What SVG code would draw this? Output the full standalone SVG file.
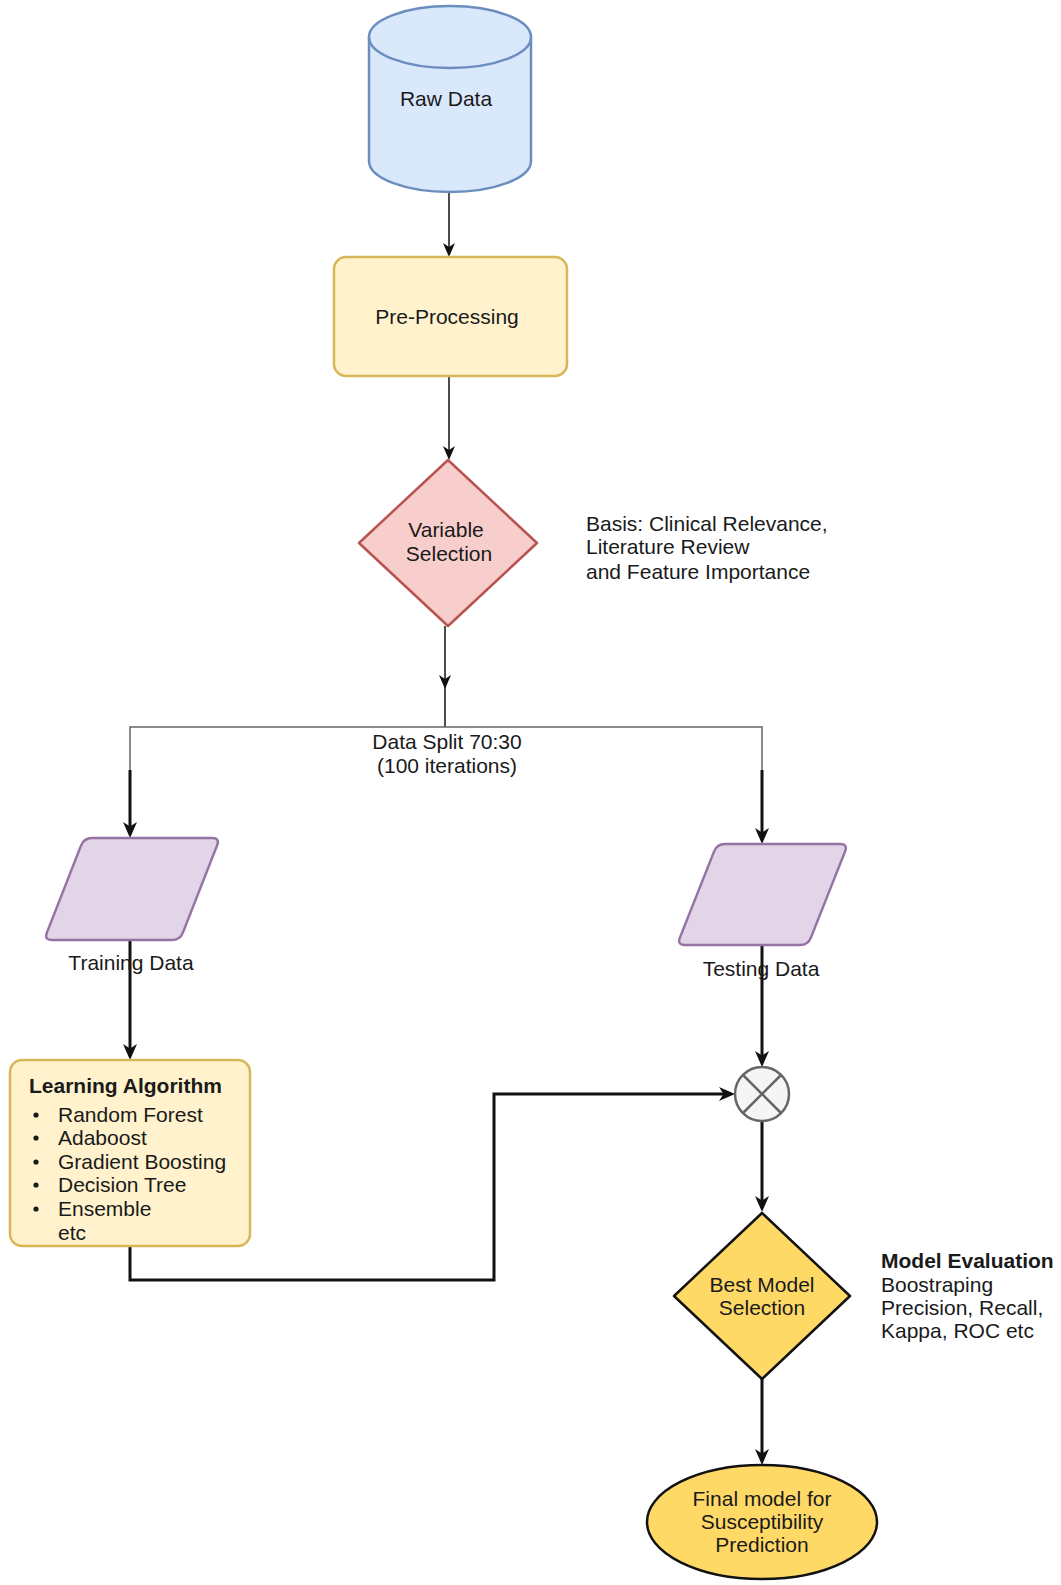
<svg xmlns="http://www.w3.org/2000/svg" width="1061" height="1585" viewBox="0 0 1061 1585">
<style>
text{font-family:"Liberation Sans",Arial,sans-serif;font-size:21px;fill:#1a1a1a}
.c{text-anchor:middle}
.b{font-weight:bold}
.thin{fill:none;stroke:#111;stroke-width:1.5}
.gray{fill:none;stroke:#666;stroke-width:1.5}
.thick{fill:none;stroke:#111;stroke-width:3}
.yel{fill:#fff2cc;stroke:#d6b656;stroke-width:2.5}
.pur{fill:#e1d5e7;stroke:#9673a6;stroke-width:2.5}
.gold{fill:#ffd966;stroke:#111;stroke-width:2.5}
</style>
<defs>
<marker id="a1" viewBox="0 0 14 12" refX="10" refY="6" markerWidth="14" markerHeight="12" markerUnits="userSpaceOnUse" orient="auto">
<path d="M0,0 L14,6 L0,12 L4,6 Z" fill="#111"/>
</marker>
<marker id="a2" viewBox="0 0 16 14" refX="12" refY="7" markerWidth="16" markerHeight="14" markerUnits="userSpaceOnUse" orient="auto">
<path d="M0,0 L16,7 L0,14 L4.5,7 Z" fill="#111"/>
</marker>
</defs>
<g id="connectors">
<line class="thin" x1="449" y1="192" x2="449" y2="253" marker-end="url(#a1)"/>
<line class="thin" x1="449" y1="376" x2="449" y2="456" marker-end="url(#a1)"/>
<line class="thin" x1="445" y1="626" x2="445" y2="685" marker-end="url(#a1)"/>
<line class="thin" x1="445" y1="685" x2="445" y2="727"/>
<path class="gray" d="M130,770 V727 H762 V770"/>
<line class="thick" x1="130" y1="770" x2="130" y2="834" marker-end="url(#a2)"/>
<line class="thick" x1="762" y1="770" x2="762" y2="840" marker-end="url(#a2)"/>
<line class="thick" x1="130" y1="940" x2="130" y2="1056" marker-end="url(#a2)"/>
<line class="thick" x1="762" y1="945" x2="762" y2="1063" marker-end="url(#a2)"/>
<path class="thick" d="M130,1246 V1280 H494 V1094 H731" marker-end="url(#a2)"/>
<line class="thick" x1="762" y1="1121" x2="762" y2="1208" marker-end="url(#a2)"/>
<line class="thick" x1="762" y1="1379" x2="762" y2="1461" marker-end="url(#a2)"/>
</g>
<g id="raw-data">
<path d="M369,37 A81,31 0 0 1 531,37 V161 A81,31 0 0 1 369,161 Z" fill="#dae8fc" stroke="#6c8ebf" stroke-width="2.5"/>
<path d="M369,37 A81,31 0 0 0 531,37" fill="none" stroke="#6c8ebf" stroke-width="2.5"/>
<text class="c" x="446" y="106">Raw Data</text>
</g>
<g id="pre-processing">
<rect class="yel" x="334" y="257" width="233" height="119" rx="12"/>
<text class="c" x="447" y="324">Pre-Processing</text>
</g>
<g id="variable-selection">
<polygon points="448,460 537,543 448,626 359,543" fill="#f8cecc" stroke="#b85450" stroke-width="2.5" stroke-linejoin="round"/>
<text class="c" x="446" y="537">Variable</text>
<text class="c" x="449" y="561">Selection</text>
</g>
<g id="basis-note">
<text x="586" y="531">Basis: Clinical Relevance,</text>
<text x="586" y="554">Literature Review</text>
<text x="586" y="579">and Feature Importance</text>
</g>
<g id="split-label">
<text class="c" x="447" y="749">Data Split 70:30</text>
<text class="c" x="447" y="773">(100 iterations)</text>
</g>
<g id="training-data">
<path class="pur" d="M92,838 L212,838 Q220,838 217.1,845.4 L182.9,932.6 Q180,940 172,940 L52,940 Q44,940 46.9,932.6 L81.1,845.4 Q84,838 92,838 Z"/>
<text class="c" x="131" y="970">Training Data</text>
</g>
<g id="testing-data">
<path class="pur" d="M725,844 L840,844 Q848,844 845.1,851.4 L810.9,937.6 Q808,945 800,945 L685,945 Q677,945 679.9,937.6 L714.1,851.4 Q717,844 725,844 Z"/>
<text class="c" x="761" y="976">Testing Data</text>
</g>
<g id="learning-algorithm">
<rect class="yel" x="10" y="1060" width="240" height="186" rx="12"/>
<text class="b" x="29" y="1093">Learning Algorithm</text>
<g>
<circle cx="36" cy="1115" r="2.6" fill="#1a1a1a"/>
<circle cx="36" cy="1138" r="2.6" fill="#1a1a1a"/>
<circle cx="36" cy="1162" r="2.6" fill="#1a1a1a"/>
<circle cx="36" cy="1185" r="2.6" fill="#1a1a1a"/>
<circle cx="36" cy="1209" r="2.6" fill="#1a1a1a"/>
</g>
<text x="58" y="1122">Random Forest</text>
<text x="58" y="1145">Adaboost</text>
<text x="58" y="1169">Gradient Boosting</text>
<text x="58" y="1192">Decision Tree</text>
<text x="58" y="1216">Ensemble</text>
<text x="58" y="1240">etc</text>
</g>
<g id="combine">
<circle cx="762" cy="1094" r="27" fill="#f5f5f5" stroke="#666" stroke-width="2.5"/>
<path d="M743,1075 L781,1113 M781,1075 L743,1113" stroke="#666" stroke-width="2.5" fill="none"/>
</g>
<g id="best-model-selection">
<polygon class="gold" points="762,1213 850,1296 762,1379 674,1296" stroke-linejoin="round"/>
<text class="c" x="762" y="1292">Best Model</text>
<text class="c" x="762" y="1315">Selection</text>
</g>
<g id="model-evaluation-note">
<text class="b" x="881" y="1268">Model Evaluation</text>
<text x="881" y="1292">Boostraping</text>
<text x="881" y="1315">Precision, Recall,</text>
<text x="881" y="1338">Kappa, ROC etc</text>
</g>
<g id="final-model">
<ellipse class="gold" cx="762" cy="1522" rx="115" ry="57"/>
<text class="c" x="762" y="1506">Final model for</text>
<text class="c" x="762" y="1529">Susceptibility</text>
<text class="c" x="762" y="1552">Prediction</text>
</g>
</svg>
